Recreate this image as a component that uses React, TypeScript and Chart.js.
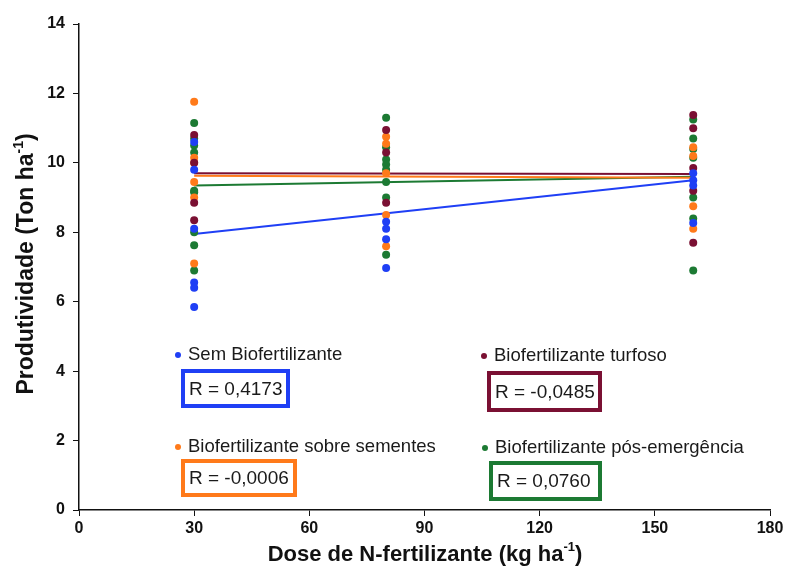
import React, { useEffect, useRef } from "react";
import { Chart, registerables } from "chart.js";

Chart.register(...registerables);

const seriesNames = [
  "Sem Biofertilizante",
  "Biofertilizante turfoso",
  "Biofertilizante sobre sementes",
  "Biofertilizante pós-emergência",
];
const seriesColors = ["#1f3ff5", "#7a1033", "#ff7a1a", "#1c7a33"];
const rLabels = ["R = 0,4173", "R = -0,0485", "R = -0,0006", "R = 0,0760"];

const doses = [30, 80, 160];
const xTicks = [0, 30, 60, 90, 120, 150, 180];
const yTicks = [0, 2, 4, 6, 8, 10, 12, 14];

// Observed yields per dose (Ton/ha)
const semAt30 = [10.6, 9.8, 8.1, 6.55, 6.4, 5.85];
const semAt80 = [8.3, 8.1, 7.8, 6.97];
const semAt160 = [9.7, 9.5, 9.35, 8.27];

const turfosoAt30 = [10.8, 10.0, 8.85, 8.35];
const turfosoAt80 = [10.95, 10.3, 8.85];
const turfosoAt160 = [11.38, 11.0, 9.85, 9.2, 7.7];

const sementesAt30 = [11.76, 10.15, 10.0, 9.45, 9.0, 7.1];
const sementesAt80 = [10.75, 10.55, 9.7, 8.5, 7.6];
const sementesAt160 = [10.45, 10.2, 8.75, 8.1];

const posAt30 = [11.15, 10.7, 10.5, 10.3, 9.2, 9.15, 8.0, 7.63, 6.9];
const posAt80 = [11.3, 10.45, 10.1, 9.95, 9.8, 9.45, 9.0, 7.35];
const posAt160 = [11.25, 10.7, 10.4, 10.15, 9.0, 8.4, 6.9];

// Fitted line endpoints at dose 30 and 160
const trendX = [30, 160];
const semTrend = [7.95, 9.5];
const turfosoTrend = [9.7, 9.68];
const sementesTrend = [9.63, 9.57];
const posTrend = [9.35, 9.6];

const allSeries = [
  [semAt30, semAt80, semAt160],
  [turfosoAt30, turfosoAt80, turfosoAt160],
  [sementesAt30, sementesAt80, sementesAt160],
  [posAt30, posAt80, posAt160],
];
const allTrends = [semTrend, turfosoTrend, sementesTrend, posTrend];

const FONT = "'Liberation Sans', Arial, Helvetica, sans-serif";

function drawSup(
  ctx: CanvasRenderingContext2D,
  main: string,
  sup: string,
  tail: string,
  cx: number,
  cy: number,
  size: number
) {
  const mainFont = `bold ${size}px ${FONT}`;
  const supFont = `bold ${Math.round(size * 0.6)}px ${FONT}`;
  ctx.font = mainFont;
  const w1 = ctx.measureText(main).width;
  const w3 = ctx.measureText(tail).width;
  ctx.font = supFont;
  const w2 = ctx.measureText(sup).width;
  const total = w1 + w2 + w3;
  let x = cx - total / 2;
  ctx.textBaseline = "middle";
  ctx.textAlign = "left";
  ctx.font = mainFont;
  ctx.fillText(main, x, cy);
  x += w1;
  ctx.font = supFont;
  ctx.fillText(sup, x, cy - size * 0.35);
  x += w2;
  ctx.font = mainFont;
  ctx.fillText(tail, x, cy);
}

const annotations = {
  id: "annotations",
  afterDraw(chart: any) {
    const ctx = chart.ctx as CanvasRenderingContext2D;
    ctx.save();
    ctx.fillStyle = "#111";
    // axis titles
    ctx.save();
    ctx.translate(27, 264);
    ctx.rotate(-Math.PI / 2);
    drawSup(ctx, "Produtividade (Ton ha", "-1", ")", 0, 0, 23);
    ctx.restore();
    drawSup(ctx, "Dose de N-fertilizante (kg ha", "-1", ")", 425, 555, 22);

    // legend entries & R boxes
    const pos = [
      { dx: 178, dy: 355, bx: 183, by: 371, bw: 105, bh: 35 },
      { dx: 484, dy: 356, bx: 489, by: 373, bw: 111, bh: 37 },
      { dx: 178, dy: 447, bx: 183, by: 461, bw: 112, bh: 34 },
      { dx: 485, dy: 448, bx: 491, by: 463, bw: 109, bh: 36 },
    ];
    for (let i = 0; i < 4; i++) {
      const p = pos[i];
      ctx.fillStyle = seriesColors[i];
      ctx.beginPath();
      ctx.arc(p.dx, p.dy, 3, 0, Math.PI * 2);
      ctx.fill();
      ctx.fillStyle = "#1a1a1a";
      ctx.font = `18.5px ${FONT}`;
      ctx.textAlign = "left";
      ctx.textBaseline = "middle";
      ctx.fillText(seriesNames[i], p.dx + 10, p.dy);
      ctx.strokeStyle = seriesColors[i];
      ctx.lineWidth = 4;
      ctx.strokeRect(p.bx, p.by, p.bw, p.bh);
      ctx.fillStyle = "#1a1a1a";
      ctx.font = `19px ${FONT}`;
      ctx.fillText(rLabels[i], p.bx + 6, p.by + p.bh / 2 + 1);
    }
    ctx.restore();
  },
};

export default function App() {
  const ref = useRef<HTMLCanvasElement>(null);
  useEffect(() => {
    document.body.style.margin = "0";
    const datasets: any[] = [];
    allSeries.forEach((groups, i) => {
      const data: { x: number; y: number }[] = [];
      groups.forEach((vals, j) => vals.forEach((v) => data.push({ x: doses[j], y: v })));
      datasets.push({
        type: "scatter",
        label: seriesNames[i],
        data,
        backgroundColor: seriesColors[i],
        borderColor: seriesColors[i],
        pointRadius: 4,
        pointBorderWidth: 0,
      });
    });
    allTrends.forEach((t, i) => {
      datasets.push({
        type: "line",
        label: seriesNames[i] + " (tendência)",
        data: trendX.map((x, k) => ({ x, y: t[k] })),
        borderColor: seriesColors[i],
        borderWidth: 2,
        pointRadius: 0,
        fill: false,
      });
    });
    const chart = new Chart(ref.current!, {
      type: "scatter",
      data: { datasets },
      options: {
        animation: false,
        responsive: false,
        layout: { padding: { top: 24, right: 17, left: 0, bottom: 0 } },
        plugins: { legend: { display: false }, tooltip: { enabled: false } },
        scales: {
          x: {
            type: "linear",
            min: 0,
            max: 180,
            afterBuildTicks: (s: any) => {
              s.ticks = xTicks.map((v) => ({ value: v }));
            },
            afterFit: (s: any) => {
              s.height = 65;
            },
            grid: { drawOnChartArea: false, drawTicks: true, tickLength: 6, color: "#111" },
            border: { display: true, color: "#111", width: 1.5 },
            ticks: {
              color: "#111",
              font: { family: FONT, size: 16, weight: "bold" },
              padding: 3,
              maxRotation: 0,
            },
          },
          y: {
            type: "linear",
            min: 0,
            max: 14,
            afterBuildTicks: (s: any) => {
              s.ticks = yTicks.map((v) => ({ value: v }));
            },
            afterFit: (s: any) => {
              s.width = 79;
            },
            grid: { drawOnChartArea: false, drawTicks: true, tickLength: 6, color: "#111" },
            border: { display: true, color: "#111", width: 1.5 },
            ticks: {
              color: "#111",
              font: { family: FONT, size: 16, weight: "bold" },
              padding: 8,
            },
          },
        },
      },
      plugins: [annotations],
    });
    return () => chart.destroy();
  }, []);
  return <canvas ref={ref} width={787} height={575} style={{ display: "block" }} />;
}
